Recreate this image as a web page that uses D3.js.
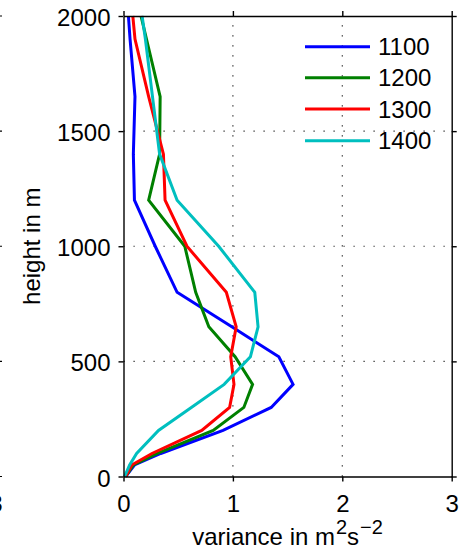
<!DOCTYPE html>
<html>
<head>
<meta charset="utf-8">
<script src="https://cdn.jsdelivr.net/npm/d3@7"></script>
<style>
  html, body { margin: 0; padding: 0; background: #fff; }
  svg { display: block; }
  text { font-family: "Liberation Sans", Arial, Helvetica, sans-serif; fill: #000; }
</style>
</head>
<body>
<svg id="chart" width="462" height="551"></svg>
<script>
// Height levels (m) and variance profiles (m^2 s^-2) for each time
const heights = [0, 50, 100, 200, 300, 400, 520, 650, 800, 1000, 1200, 1400, 1650, 1900, 2000];
const var1100 = [0.02, 0.10, 0.34, 0.91, 1.35, 1.55, 1.42, 0.99, 0.49, 0.29, 0.10, 0.09, 0.105, 0.06, 0.045];
const var1200 = [0.02, 0.09, 0.31, 0.82, 1.10, 1.18, 1.02, 0.78, 0.66, 0.56, 0.23, 0.33, 0.335, 0.21, 0.16];
const var1300 = [0.02, 0.075, 0.26, 0.715, 0.97, 1.01, 0.98, 1.03, 0.94, 0.58, 0.38, 0.365, 0.23, 0.105, 0.085];
const var1400 = [0.01, 0.056, 0.12, 0.32, 0.62, 0.92, 1.16, 1.23, 1.20, 0.87, 0.49, 0.33, 0.265, 0.20, 0.17];

const seriesNames = ["1100", "1200", "1300", "1400"];
const seriesColors = ["#0000ff", "#008000", "#ff0000", "#00bfbf"];
const seriesValues = [var1100, var1200, var1300, var1400];

const xTicks = [0, 1, 2, 3];
const yTicks = [0, 500, 1000, 1500, 2000];
const xGrid = [1, 2];
const yGrid = [500, 1000, 1500];

const svg = d3.select("#chart");
const plotL = 123.5, plotR = 451.7, plotT = 16, plotB = 476.5;

const x = d3.scaleLinear().domain([0, 3]).range([plotL, plotR]);
const y = d3.scaleLinear().domain([0, 2000]).range([plotB, plotT]);

// Fragments of the neighbouring panel at the left edge
const nb = svg.append("g");
nb.selectAll("line").data(yTicks).join("line")
  .attr("x1", 0).attr("x2", 2)
  .attr("y1", d => y(d)).attr("y2", d => y(d))
  .attr("stroke", "#000").attr("stroke-width", 1.2);
nb.append("text").attr("x", -4).attr("y", 512)
  .attr("text-anchor", "middle").style("font-size", "24px").text("3");

// Dotted grid
const grid = svg.append("g").attr("stroke", "#222").attr("stroke-width", 1.2)
  .attr("stroke-dasharray", "1.2,8.8");
grid.selectAll("line.gx").data(xGrid).join("line").attr("class", "gx")
  .attr("x1", d => x(d)).attr("x2", d => x(d))
  .attr("y1", plotB).attr("y2", plotT);
grid.selectAll("line.gy").data(yGrid).join("line").attr("class", "gy")
  .attr("y1", d => y(d)).attr("y2", d => y(d))
  .attr("x1", plotL).attr("x2", plotR);

// Profiles
const line = d3.line().x(d => x(d[0])).y(d => y(d[1]));
seriesValues.forEach((vals, i) => {
  svg.append("path")
    .datum(vals.map((v, j) => [v, heights[j]]))
    .attr("fill", "none")
    .attr("stroke", seriesColors[i])
    .attr("stroke-width", 3)
    .attr("stroke-linejoin", "miter")
    .attr("d", line);
});

// Axes
function styleAxis(g) {
  g.selectAll(".domain").attr("stroke", "#000").attr("stroke-width", 1.4);
  g.selectAll(".tick line").attr("stroke", "#000").attr("stroke-width", 1.4);
  g.selectAll(".tick text").style("font-size", "24px")
    .style("font-family", "'Liberation Sans', Arial, sans-serif").attr("fill", "#000");
}

svg.append("g").attr("transform", `translate(0,${plotB})`)
  .call(d3.axisBottom(x).tickValues(xTicks).tickFormat(d3.format("d"))
    .tickSize(5).tickSizeOuter(0).tickPadding(13))
  .call(styleAxis);

svg.append("g").attr("transform", `translate(${plotL},0)`)
  .call(d3.axisLeft(y).tickValues(yTicks).tickFormat(d3.format("d"))
    .tickSize(5).tickSizeOuter(0).tickPadding(8))
  .call(styleAxis)
  .selectAll(".tick text").attr("dy", "0.4em");

svg.append("g").attr("transform", `translate(0,${plotT})`)
  .call(d3.axisTop(x).tickValues(xTicks).tickFormat("").tickSize(5).tickSizeOuter(0))
  .call(styleAxis);

svg.append("g").attr("transform", `translate(${plotR},0)`)
  .call(d3.axisRight(y).tickValues(yTicks).tickFormat("").tickSize(5).tickSizeOuter(0))
  .call(styleAxis);

// Axis titles
const xt = svg.append("text")
  .attr("x", (plotL + plotR) / 2).attr("y", 545)
  .attr("text-anchor", "middle").style("font-size", "24px");
xt.append("tspan").text("variance in m");
xt.append("tspan").attr("dx", 1).attr("dy", -11).style("font-size", "20px").text("2");
xt.append("tspan").attr("dy", 11).text("s");
xt.append("tspan").attr("dx", 1).attr("dy", -11).style("font-size", "20px").text("\u22122");

svg.append("text")
  .attr("transform", `translate(40,${(plotT + plotB) / 2}) rotate(-90)`)
  .attr("text-anchor", "middle").style("font-size", "24px")
  .text("height in m");

// Legend
const legY = [46.7, 77.7, 109, 140.7];
const leg = svg.append("g");
seriesNames.forEach((name, i) => {
  leg.append("line")
    .attr("x1", 305).attr("x2", 370)
    .attr("y1", legY[i]).attr("y2", legY[i])
    .attr("stroke", seriesColors[i]).attr("stroke-width", 3);
  leg.append("text")
    .attr("x", 378).attr("y", legY[i]).attr("dy", "0.36em")
    .style("font-size", "24px").text(name);
});
</script>
</body>
</html>
